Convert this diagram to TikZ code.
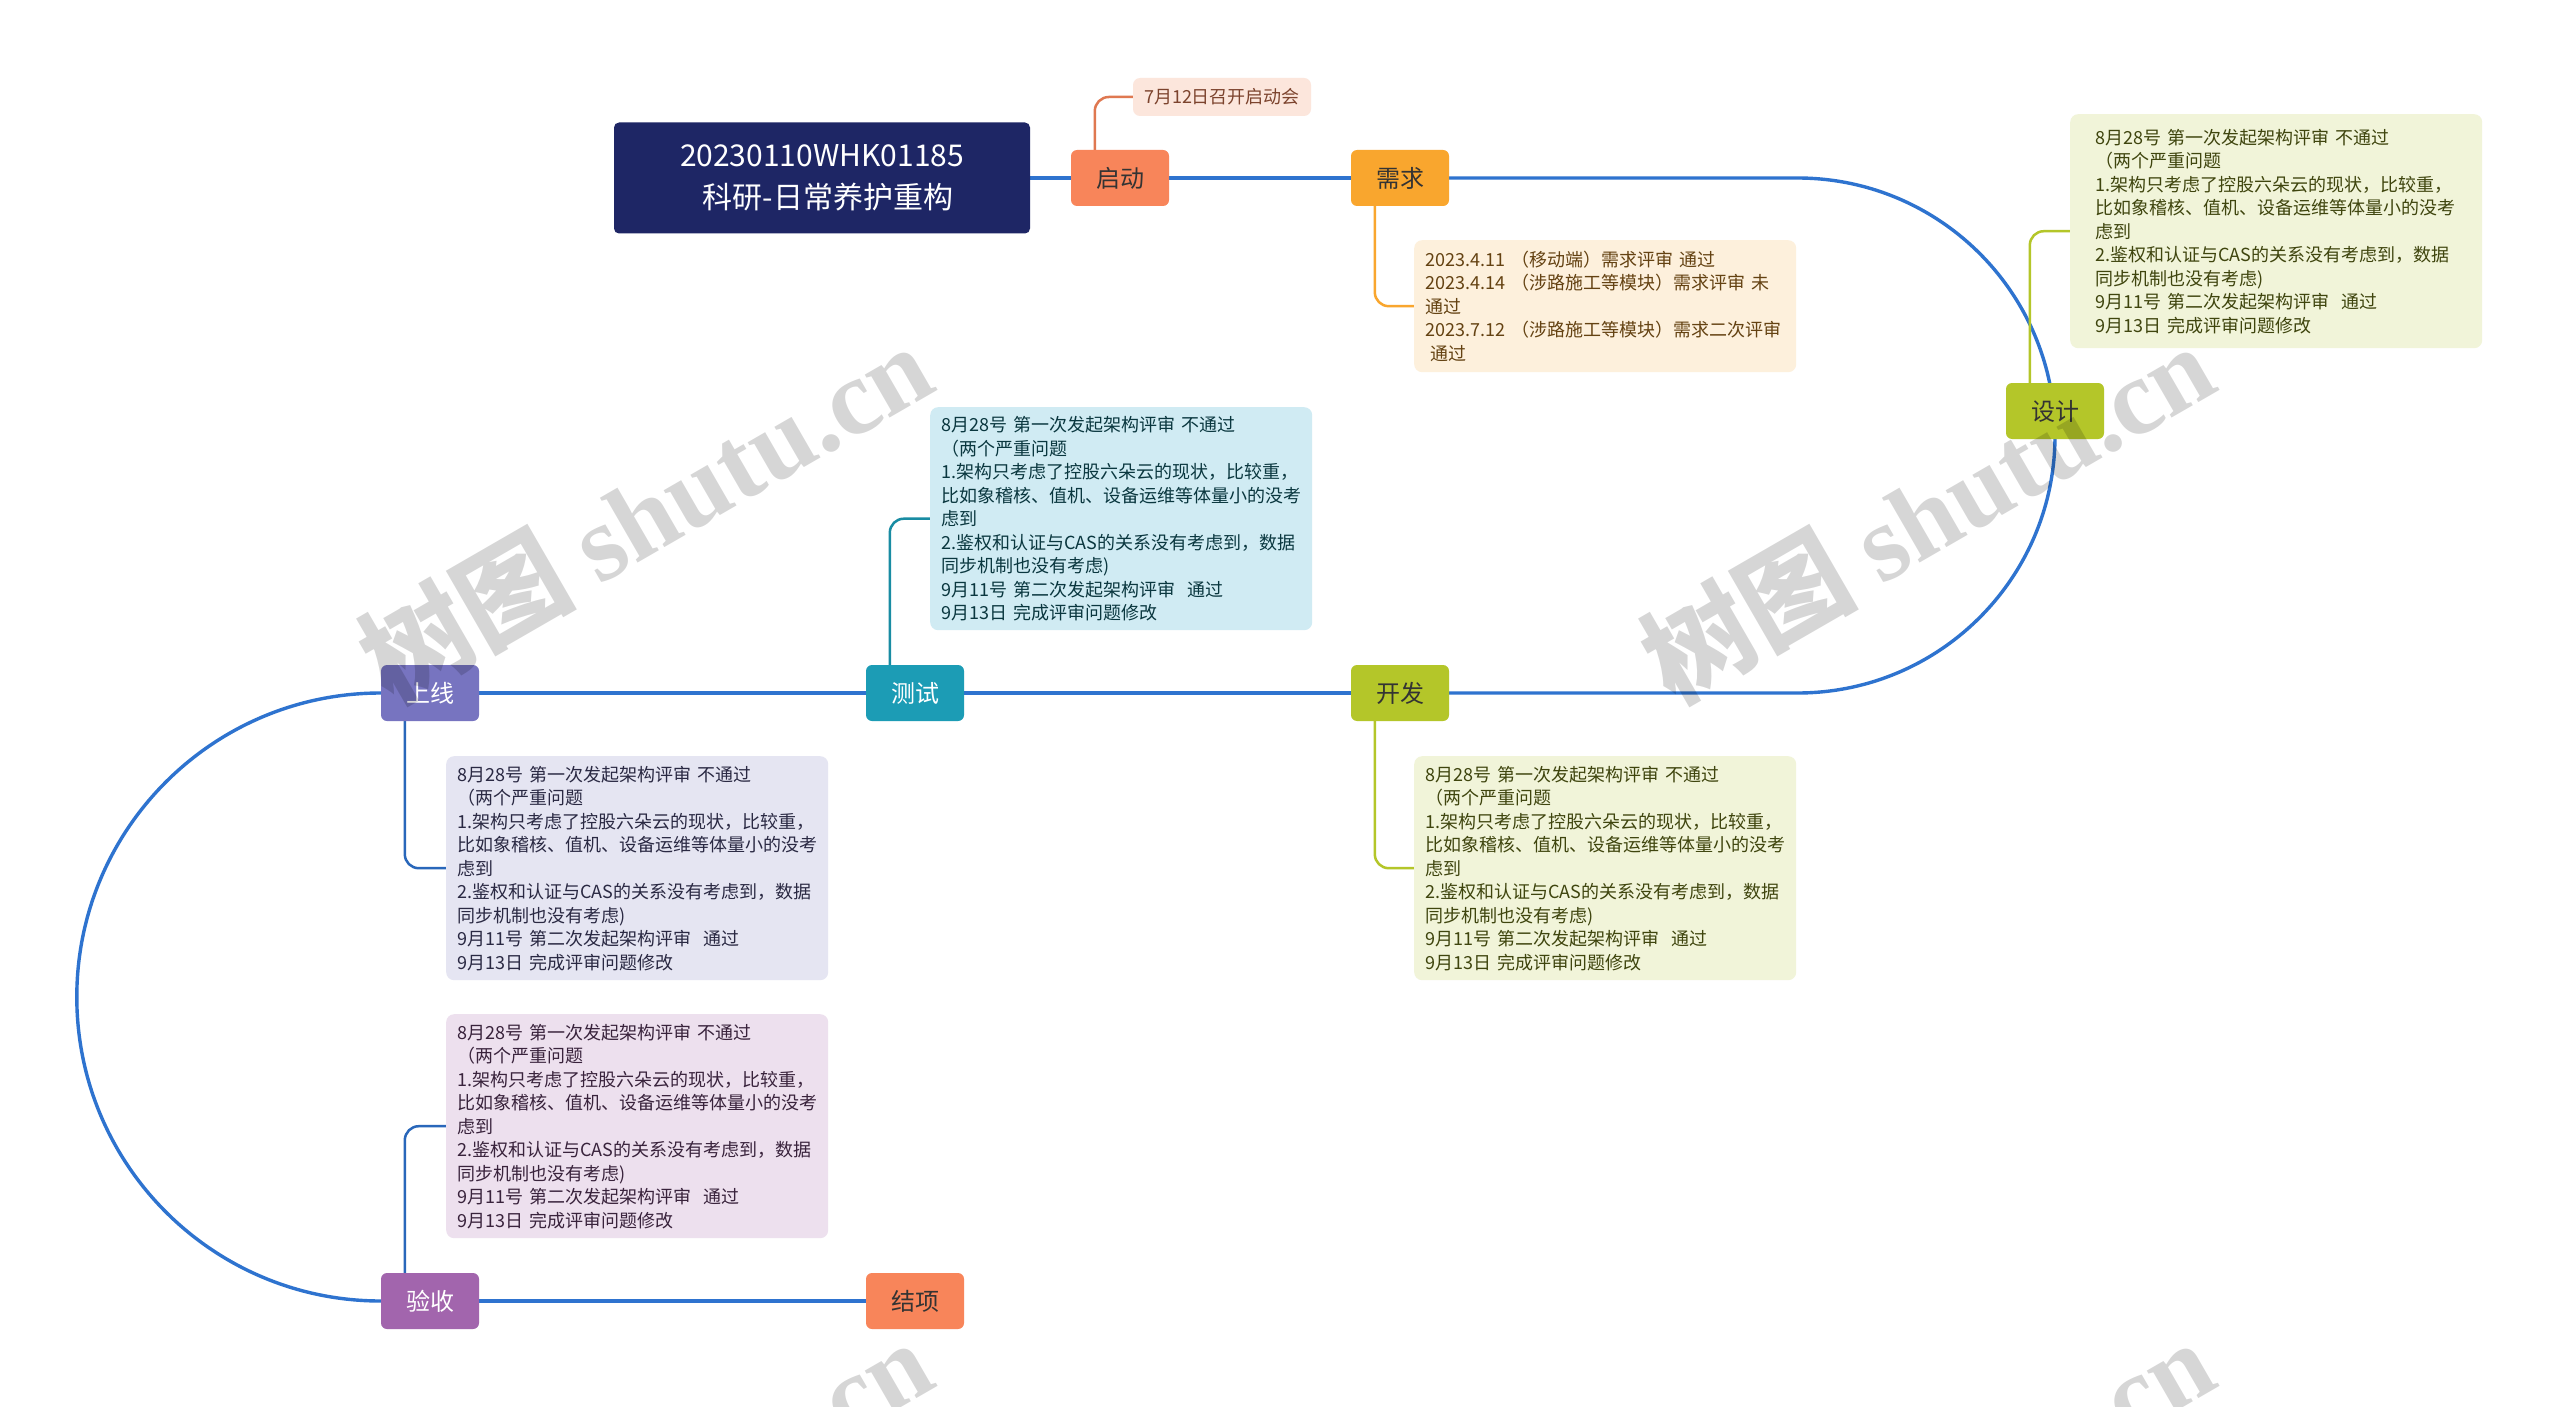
\documentclass[tikz,border=0pt]{standalone}
\usepackage{fontspec}
\setmainfont{Noto Sans CJK SC}
\newfontfamily\wmlatin{Liberation Serif}
\usetikzlibrary{backgrounds}

% 颜色
\definecolor{lanxian}{HTML}{2E73CF}
\definecolor{biaotise}{HTML}{1E2665}
\definecolor{chengse}{HTML}{F8855A}
\definecolor{huangse}{HTML}{F9A62E}
\definecolor{lvse}{HTML}{B4C629}
\definecolor{qingse}{HTML}{1C9CB5}
\definecolor{lanzise}{HTML}{7774C0}
\definecolor{zise}{HTML}{A265AD}
\definecolor{chengdi}{HTML}{FCE6DC}
\definecolor{huangdi}{HTML}{FDF0DC}
\definecolor{lvdi}{HTML}{F1F4D9}
\definecolor{qingdi}{HTML}{D0EBF3}
\definecolor{lanzidi}{HTML}{E5E5F2}
\definecolor{zidi}{HTML}{EDE0EE}

% 架构评审的备注文字（四处相同）
\newcommand\jiagoupingshen{%
8月28号 第一次发起架构评审 不通过\\
（两个严重问题\\
1.架构只考虑了控股六朵云的现状，比较重，\\
比如象稽核、值机、设备运维等体量小的没考\\
虑到\\
2.鉴权和认证与CAS的关系没有考虑到，数据\\
同步机制也没有考虑)\\
9月11号 第二次发起架构评审\ \ 通过\\
9月13日 完成评审问题修改}

\begin{document}
\begin{tikzpicture}[
        x=1pt,
        y=-1pt,
        line join=round,
        line cap=round,
        zhuxian/.style={draw=lanxian, line width=3.4pt},
        zhixian/.style={line width=2.5pt, rounded corners=14pt},
        zhuti/.style={rounded corners=6pt, minimum width=98pt, minimum height=56pt,
            inner sep=0pt, font=\fontsize{24}{28}\selectfont},
        beizhu/.style={anchor=north west, rounded corners=8pt, align=left,
            text width=360pt, inner xsep=11pt, inner ysep=0pt,
            font=\fontsize{18}{23.5}\selectfont},
        shuiyin/.style={text=black, opacity=0.16, font=\bfseries\fontsize{108}{112}\selectfont}
    ]
        % 中心主题
        \node[fill=biaotise, text=white, rounded corners=5pt, minimum width=416pt,
            minimum height=111pt, align=center, font=\fontsize{30}{42}\selectfont]
            (title) at (822,178) {20230110WHK01185\\\hspace*{12pt}科研-日常养护重构};

        % 主干上的各阶段
        \node[zhuti, fill=chengse, text=black!80] (qidong) at (1120,178) {启动};
        \node[zhuti, fill=huangse, text=black!80] (xuqiu) at (1400,178) {需求};
        \node[zhuti, fill=lvse, text=black!80] (sheji) at (2055,411) {设计};
        \node[zhuti, fill=lvse, text=black!80] (kaifa) at (1400,693) {开发};
        \node[zhuti, fill=qingse, text=white] (ceshi) at (915,693) {测试};
        \node[zhuti, fill=lanzise, text=white] (shangxian) at (430,693) {上线};
        \node[zhuti, fill=zise, text=white] (yanshou) at (430,1301) {验收};
        \node[zhuti, fill=chengse, text=black!80] (jiexiang) at (915,1301) {结项};

        % 备注
        \node[fill=chengdi, text=chengse!50!black, rounded corners=7pt, minimum width=178pt,
            minimum height=38pt, inner sep=0pt, font=\fontsize{18}{22}\selectfont]
            (qidongzhu) at (1222,97) {7月12日召开启动会};
        \node[beizhu, fill=huangdi, text=huangse!40!black, minimum height=132pt]
            (xuqiuzhu) at (1414,240) {2023.4.11 （移动端）需求评审 通过\\
            2023.4.14 （涉路施工等模块）需求评审 未\\
            通过\\
            2023.7.12 （涉路施工等模块）需求二次评审\\
            \hspace*{5pt}通过};
        \node[beizhu, fill=lvdi, text=lvse!35!black, text width=362pt, inner xsep=25pt,
            minimum height=234pt] (shejizhu) at (2070,114) {\jiagoupingshen};
        \node[beizhu, fill=lvdi, text=lvse!35!black, minimum height=224pt]
            (kaifazhu) at (1414,756) {\jiagoupingshen};
        \node[beizhu, fill=qingdi, text=qingse!35!black, minimum height=223pt]
            (ceshizhu) at (930,407) {\jiagoupingshen};
        \node[beizhu, fill=lanzidi, text=lanzise!35!black, minimum height=224pt]
            (shangxianzhu) at (446,756) {\jiagoupingshen};
        \node[beizhu, fill=zidi, text=zise!35!black, minimum height=224pt]
            (yanshouzhu) at (446,1014) {\jiagoupingshen};

        % 拐弯处
        \coordinate (youshang) at (1797.5,178);

        \begin{pgfonlayer}{background}
            \fill[white] (0,0) rectangle (2560,1407);

            % 主干线
            \draw[zhuxian] (title.east) -- (qidong.west);
            \draw[zhuxian] (qidong.east) -- (xuqiu.west);
            \draw[zhuxian] (xuqiu.east) -- (youshang)
                arc[start angle=90, end angle=-90, radius=257.5pt] -- (kaifa.east);
            \draw[zhuxian] (kaifa.west) -- (ceshi.east);
            \draw[zhuxian] (ceshi.west) -- (shangxian.east);
            \draw[zhuxian] (shangxian.west)
                arc[start angle=90, end angle=270, radius=304pt] -- (yanshou.west);
            \draw[zhuxian] (yanshou.east) -- (jiexiang.west);

            % 分支线
            \draw[zhixian, draw=chengse!90!black] ([xshift=24pt]qidong.north west) |- (qidongzhu.west);
            \draw[zhixian, draw=huangse] ([xshift=24pt]xuqiu.south west) |- (xuqiuzhu.west);
            \draw[zhixian, draw=lvse] ([xshift=24pt]sheji.north west) |- (shejizhu.west);
            \draw[zhixian, draw=lvse] ([xshift=24pt]kaifa.south west) |- (kaifazhu.west);
            \draw[zhixian, draw=qingse!90!black] ([xshift=24pt]ceshi.north west) |- (ceshizhu.west);
            \draw[zhixian, draw=lanxian!90!black] ([xshift=24pt]shangxian.south west) |- (shangxianzhu.west);
            \draw[zhixian, draw=lanxian!90!black] ([xshift=24pt]yanshou.north west) |- (yanshouzhu.west);
        \end{pgfonlayer}

        % 水印
        \begin{scope}
            \clip (0,0) rectangle (2560,1407);
            \foreach \sx/\sy/\sm in {645/512/a, 1927/512/b, 645/1508/c, 1927/1508/d} {
                \node[shuiyin, rotate=30] (shuiyin\sm) at (\sx,\sy) {树图 {\wmlatin shutu.cn}};
            }
        \end{scope}

        \useasboundingbox (0,0) rectangle (2560,1407);
    \end{tikzpicture}
\end{document}
